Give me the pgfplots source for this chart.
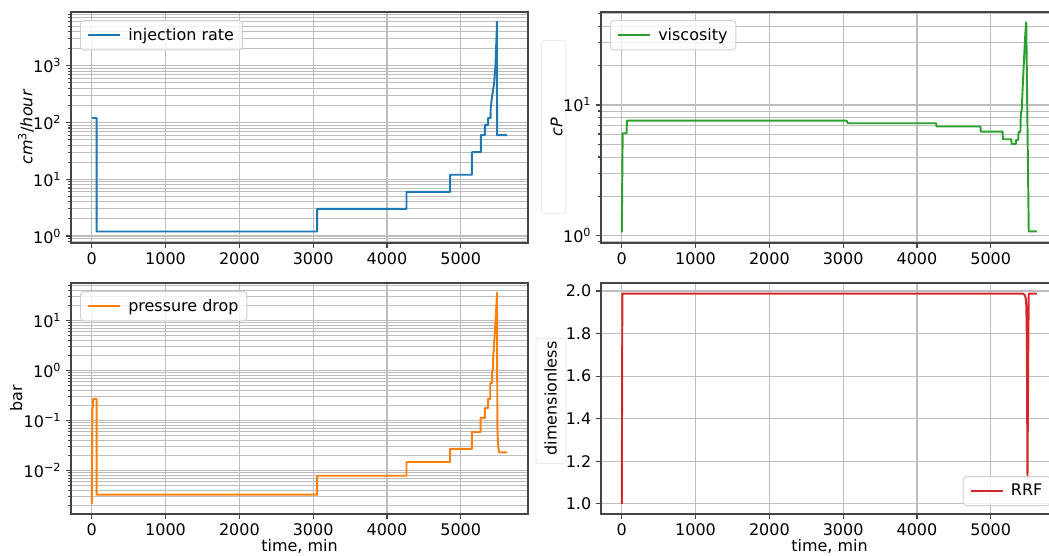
\documentclass[border=0pt]{standalone}
\usepackage{fontspec}
\setmainfont{DejaVu Sans}
\usepackage{pgfplots}
\pgfplotsset{compat=1.18}
\definecolor{tabblue}{HTML}{1F77B4}
\definecolor{taborange}{HTML}{FF7F0E}
\definecolor{tabgreen}{HTML}{2CA02C}
\definecolor{tabred}{HTML}{D62728}
\definecolor{gridgray}{HTML}{BDBDBD}
\definecolor{spine}{HTML}{444444}
\definecolor{legedge}{HTML}{D0D0D0}
\pgfplotsset{
  panel/.style={
    scale only axis, width=329.04pt, height=166.32pt,
    anchor=south west,
    xmin=-281.5, xmax=5911.5,
    xtick={0,1000,2000,3000,4000,5000},
    tick align=outside, tick pos=left,
    major tick length=3.5pt, minor tick length=2pt,
    axis line style={spine, line width=0.8pt},
    every tick/.style={spine, line width=0.8pt},
    xmajorgrids=true, ymajorgrids=true,
    major grid style={gridgray, line width=0.8pt},
    minor grid style={gridgray, line width=0.7pt},
    tick label style={font=\fontsize{11.5}{13.8}\selectfont},
    /pgf/number format/assume math mode=true,
    /pgf/number format/set thousands separator={},
    every axis y label/.style={at={(rel axis cs:-0.1,0.5)}, rotate=90, anchor=center, font=\fontsize{11.5}{13.8}\selectfont},
    every axis x label/.style={at={(rel axis cs:0.5,-0.14)}, anchor=center, font=\fontsize{11.5}{13.8}\selectfont},
    legend cell align=left,
    legend style={draw=legedge, rounded corners=2.5pt, fill=white, fill opacity=0.8, text opacity=1, draw opacity=1,
      font=\fontsize{11.5}{13.8}\selectfont, line width=0.7pt,
      at={(rel axis cs:0.0197,0.9655)}, anchor=north west,
      inner xsep=4pt, inner ysep=3.5pt},
    legend image code/.code={\draw[#1] (0pt,0pt) -- (23pt,0pt); \path (-1pt,0pt) (26pt,0pt);},
    every axis plot/.append style={line width=1.4pt, line join=round},
  },
}
\begin{document}
\begin{tikzpicture}
\path[use as bounding box] (0pt,0pt) rectangle (755.28pt,399.6pt);
\clip (0pt,0pt) rectangle (755.28pt,399.6pt);

% faint artifact boxes
\draw[gray!22, line width=0.5pt, rounded corners=1pt] (390.0pt,246.0pt) rectangle (407.5pt,370.3pt);
\draw[gray!22, line width=0.5pt, rounded corners=1pt] (385.9pt,66.0pt) rectangle (407.5pt,156.0pt);

% ---------- injection rate ----------
\begin{axis}[panel, at={(51.12pt,224.64pt)},
  ymode=log, log basis y=10,
  ymin=0.753, ymax=8850,
  ytick={1,10,100,1000},
  yticklabels={10\textsuperscript{0},10\textsuperscript{1},10\textsuperscript{2},10\textsuperscript{3}},
  minor ytick={0.8,0.9,2,3,4,5,6,7,8,9,20,30,40,50,60,70,80,90,200,300,400,500,600,700,800,900,2000,3000,4000,5000,6000,7000,8000},
  yminorgrids=true,
  ylabel={{\itshape cm}\textsuperscript{3}/{\itshape hour}},
  ylabel style={at={(rel axis cs:-0.0985,0.5)}},
]
\addplot[tabblue] coordinates {
(0,120)(65,120)(65,1.2)(3055,1.2)(3055,3)(4265,3)(4265,6)(4855,6)(4855,12)
(5150,12)(5150,30)(5272,30)(5272,60)(5327,60)(5327,90)(5371,90)(5371,120)
(5405,120)(5407,185)(5425,290)(5438,380)(5451,465)(5460,650)(5470,970)
(5478,1900)(5487,3750)(5491,6000)(5492,60)(5630,60)};
\addlegendentry{injection rate}
\end{axis}

% ---------- viscosity ----------
\begin{axis}[panel, at={(432.72pt,224.64pt)},
  ymode=log, log basis y=10,
  ymin=0.879, ymax=51.5,
  ytick={1,10},
  yticklabels={10\textsuperscript{0},10\textsuperscript{1}},
  minor ytick={0.9,2,3,4,5,6,7,8,9,20,30,40,50},
  yminorgrids=true,
  ylabel={\itshape cP},
  ylabel style={at={(rel axis cs:-0.097,0.5)}},
]
\addplot[tabgreen] coordinates {
(0,1.06)(12,6.08)(65,6.08)(70,7.6)(3045,7.6)(3065,7.25)(4260,7.25)(4265,6.85)
(4860,6.85)(4865,6.25)(5160,6.25)(5165,5.47)(5278,5.47)(5283,5.04)(5340,5.04)
(5345,5.4)(5372,5.4)(5377,6.2)(5402,6.2)(5408,8.6)(5420,9.2)(5435,14.6)
(5455,25)(5470,36)(5481,43)(5515,1.08)(5625,1.08)};
\addlegendentry{viscosity}
\end{axis}

% ---------- pressure drop ----------
\begin{axis}[panel, at={(51.12pt,29.52pt)},
  ymode=log, log basis y=10,
  ymin=0.00134, ymax=56,
  ytick={0.01,0.1,1,10},
  yticklabels={10\textsuperscript{−2},10\textsuperscript{−1},10\textsuperscript{0},10\textsuperscript{1}},
  minor ytick={0.002,0.003,0.004,0.005,0.006,0.007,0.008,0.009,0.02,0.03,0.04,0.05,0.06,0.07,0.08,0.09,0.2,0.3,0.4,0.5,0.6,0.7,0.8,0.9,2,3,4,5,6,7,8,9,20,30,40,50},
  yminorgrids=true,
  ylabel={bar},
  ylabel style={at={(rel axis cs:-0.12,0.5)}},
  xlabel={time, min},
]
\addplot[taborange] coordinates {
(0,0.0021)(8,0.17)(15,0.19)(20,0.27)(65,0.27)(65,0.00327)(3055,0.00327)(3055,0.0078)
(4265,0.0078)(4265,0.0147)(4855,0.0147)(4855,0.0268)(5150,0.0268)(5150,0.0586)
(5270,0.0586)(5270,0.112)(5327,0.112)(5327,0.177)(5371,0.177)(5371,0.27)(5400,0.27)
(5400,0.56)(5425,0.56)(5425,1.0)(5438,1.0)(5438,1.77)(5456,4.1)(5470,8.9)(5483,19)
(5491,36)(5496,0.076)(5505,0.035)(5518,0.023)(5630,0.023)};
\addlegendentry{pressure drop}
\end{axis}

% ---------- RRF ----------
\begin{axis}[panel, at={(432.72pt,29.52pt)},
  ymin=0.952, ymax=2.0375,
  ytick={1,1.2,1.4,1.6,1.8,2},
  yticklabel style={/pgf/number format/.cd, fixed, fixed zerofill, precision=1},
  ylabel={dimensionless},
  ylabel style={at={(rel axis cs:-0.110,0.5)}},
  xlabel={time, min},
  legend style={at={(rel axis cs:0.985,0.0345)}, anchor=south east},
]
\addplot[tabred] coordinates {
(0,1.0)(8,1.988)(5434,1.988)(5460,1.982)(5475,1.965)(5482,1.93)(5488,1.8)
(5498,1.12)(5508,1.7)(5515,1.988)(5625,1.988)};
\addlegendentry{RRF}
\end{axis}
\end{tikzpicture}
\end{document}
